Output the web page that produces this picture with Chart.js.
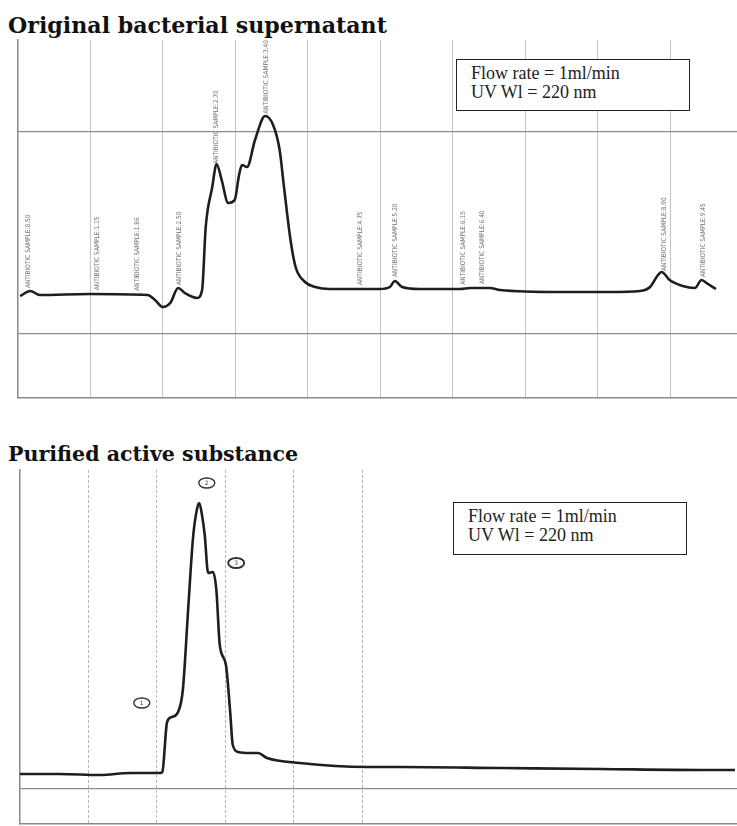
<!DOCTYPE html>
<html>
<head>
<meta charset="utf-8">
<script src="https://cdn.jsdelivr.net/npm/chart.js@4"></script>
<style>
  html, body { margin:0; padding:0; background:#fff; }
  body { width:737px; height:826px; position:relative; overflow:hidden; }
  .title { position:absolute; left:8px; font-family:"DejaVu Serif","Liberation Serif",serif; font-weight:bold; color:#111; white-space:nowrap; line-height:1; }
  .box { position:absolute; border:1.5px solid #222; font-family:"Liberation Serif","DejaVu Serif",serif; font-size:18px; line-height:19px; color:#222; padding:4px 0 0 14px; box-sizing:border-box; background:#fff; }
  .wrap { position:absolute; left:0; width:737px; }
</style>
</head>
<body>
<div id="t1" class="title" style="top:14px;">Original bacterial supernatant</div>
<div id="t2" class="title" style="top:444px;">Purified active substance</div>

<div class="wrap" style="top:0; height:410px;"><canvas id="c1"></canvas></div>
<div class="wrap" style="top:410px; height:416px;"><canvas id="c2"></canvas></div>

<div class="box" style="left:456px; top:59px; width:234px; height:52px;">Flow rate = 1ml/min<br>UV Wl = 220 nm</div>
<div class="box" style="left:453px; top:502px; width:234px; height:53px;">Flow rate = 1ml/min<br>UV Wl = 220 nm</div>

<script>
// ---------- DATA ----------
// Top chromatogram: original bacterial supernatant (time, signal)
const topTimes  = [0.03,0.17,0.30,0.99,1.79,1.89,2.00,2.10,2.21,2.30,2.47,2.54,2.59,2.68,2.74,2.81,2.90,2.99,3.05,3.09,3.16,3.27,3.41,3.52,3.61,3.67,3.76,3.83,3.96,4.10,4.30,4.99,5.13,5.20,5.30,5.54,6.10,6.24,6.37,6.51,6.65,7.48,8.17,8.58,8.72,8.83,8.88,8.99,9.17,9.34,9.43,9.52,9.63];
const topSignal = [102, 107, 103, 104, 103, 98,  91,  95,  110, 105, 100, 108, 171, 211, 234, 218, 195, 198, 223, 233, 231, 258, 282, 273, 248, 211, 158, 131, 116, 111, 109, 109, 111, 117, 111, 109, 109, 110, 110, 110, 108, 106, 106, 107, 111, 123, 126, 118, 112, 110, 118, 114, 109];
// Peak annotations on top chromatogram
const topPeakTimes = [0.14, 1.09, 1.64, 2.23, 2.73, 3.43, 4.72, 5.20, 6.14, 6.41, 8.92, 9.45];
const topPeakNames = ["ANTIBIOTIC SAMPLE:0.50","ANTIBIOTIC SAMPLE:1.15","ANTIBIOTIC SAMPLE:1.86","ANTIBIOTIC SAMPLE:2.50","ANTIBIOTIC SAMPLE:2.70","ANTIBIOTIC SAMPLE:3.40","ANTIBIOTIC SAMPLE:4.75","ANTIBIOTIC SAMPLE:5.20","ANTIBIOTIC SAMPLE:6.15","ANTIBIOTIC SAMPLE:6.40","ANTIBIOTIC SAMPLE:8.90","ANTIBIOTIC SAMPLE:9.45"];
const topGridTimes  = [1,2,3,4,5,6,7,8,9];
const topGridLevels = [64, 266];

// Bottom chromatogram: purified active substance
const bottomTimes  = [0.00,0.58,1.17,1.61,1.90,2.05,2.08,2.15,2.22,2.31,2.38,2.46,2.53,2.59,2.62,2.66,2.70,2.75,2.82,2.87,2.92,3.01,3.07,3.11,3.19,3.36,3.48,3.61,4.09,5.07,5.56,7.02,8.48,9.94,10.45];
const bottomSignal = [50,  50,  49,  51,  51,  51,  52,  102, 107, 112, 134, 217, 287, 316, 321, 309, 289, 251, 252, 234, 179, 159, 114, 79,  72,  71,  71,  66,  61,  57,  57,  56,  55,  54,  54];
const bottomMarkTimes  = [1.78, 2.73, 3.16];
const bottomMarkLevels = [121, 341, 261];
const bottomMarkNames  = ["1", "2", "3"];
const bottomGridTimes  = [1,2,3,4,5];
const bottomGridLevels = [35];

// ---------- helpers ----------
function fitTitle(id, target){
  const el = document.getElementById(id);
  const c = document.createElement('canvas').getContext('2d');
  c.font = 'bold 20px "DejaVu Serif"';
  const w = c.measureText(el.textContent).width;
  el.style.fontSize = (20*target/w).toFixed(2)+'px';
}
fitTitle('t1', 379);
fitTitle('t2', 290);

function interp(xs, ys, x){
  if (x <= xs[0]) return ys[0];
  for (let i=1;i<xs.length;i++){
    if (x <= xs[i]) { const f=(x-xs[i-1])/(xs[i]-xs[i-1]); return ys[i-1]+f*(ys[i]-ys[i-1]); }
  }
  return ys[ys.length-1];
}

const peakLabelPlugin = {
  id:'peakLabels',
  afterDatasetsDraw(chart, args, opts){
    if (!opts.times) return;
    const ctx = chart.ctx, xs = chart.scales.x, ys = chart.scales.y;
    ctx.save();
    ctx.font = '6.5px "DejaVu Sans Condensed","DejaVu Sans",sans-serif';
    ctx.fillStyle = '#707070';
    ctx.textAlign = 'left'; ctx.textBaseline = 'middle';
    opts.times.forEach((t,i)=>{
      const px = xs.getPixelForValue(t);
      const py = ys.getPixelForValue(interp(opts.dataX, opts.dataY, t)) - 4;
      ctx.save();
      ctx.translate(px, py);
      ctx.rotate(-Math.PI/2);
      ctx.fillText(opts.names[i], 0, 0);
      ctx.restore();
    });
    ctx.restore();
  }
};

const markPlugin = {
  id:'marks',
  afterDatasetsDraw(chart, args, opts){
    if (!opts.times) return;
    const ctx = chart.ctx, xs = chart.scales.x, ys = chart.scales.y;
    ctx.save();
    opts.times.forEach((t,i)=>{
      const px = xs.getPixelForValue(t), py = ys.getPixelForValue(opts.levels[i]);
      ctx.beginPath();
      ctx.ellipse(px, py, 8, 5, 0, 0, Math.PI*2);
      ctx.lineWidth = i===2 ? 2 : 1.4;
      ctx.strokeStyle = '#333';
      ctx.stroke();
      ctx.font = '6px "DejaVu Sans",sans-serif';
      ctx.fillStyle = '#444';
      ctx.textAlign = 'center'; ctx.textBaseline = 'middle';
      ctx.fillText(opts.names[i], px, py+0.5);
    });
    ctx.restore();
  }
};

function makeChart(id, xsArr, ysArr, xMax, yMax, gridTimes, gridLevels, pad, vGridColor, vDash, plugOpts){
  return new Chart(document.getElementById(id), {
    type:'line',
    data:{ datasets:[{
      data: xsArr.map((x,i)=>({x:x, y:ysArr[i]})),
      borderColor:'#1e1e1e', borderWidth:2.6, pointRadius:0,
      cubicInterpolationMode:'monotone', fill:false
    }]},
    options:{
      responsive:true, maintainAspectRatio:false, animation:false,
      layout:{ padding: pad },
      plugins:{ legend:{display:false}, tooltip:{enabled:false}, ...plugOpts },
      scales:{
        x:{ type:'linear', min:0, max:xMax,
            afterBuildTicks(s){ s.ticks = gridTimes.map(v=>({value:v})); },
            ticks:{display:false},
            grid:{ color:vGridColor, lineWidth:1, drawTicks:false },
            border:{ display:true, color:'#8a8a8a', width:1.5, dash:vDash } },
        y:{ min:0, max:yMax,
            afterBuildTicks(s){ s.ticks = gridLevels.map(v=>({value:v})); },
            ticks:{display:false},
            grid:{ color:'#8c8c8c', lineWidth:1.3, drawTicks:false },
            border:{ display:true, color:'#8a8a8a', width:1.5 } }
      }
    },
    plugins:[peakLabelPlugin, markPlugin]
  });
}

makeChart('c1', topTimes, topSignal, 9.92, 358, topGridTimes, topGridLevels,
  {left:18, top:40, right:0, bottom:12}, '#c4c4c4', [],
  { peakLabels:{ times:topPeakTimes, names:topPeakNames, dataX:topTimes, dataY:topSignal } });

makeChart('c2', bottomTimes, bottomSignal, 10.48, 354, bottomGridTimes, bottomGridLevels,
  {left:20, top:60, right:0, bottom:2}, '#b4b4b4', [3,2],
  { marks:{ times:bottomMarkTimes, levels:bottomMarkLevels, names:bottomMarkNames } });
</script>
</body>
</html>
